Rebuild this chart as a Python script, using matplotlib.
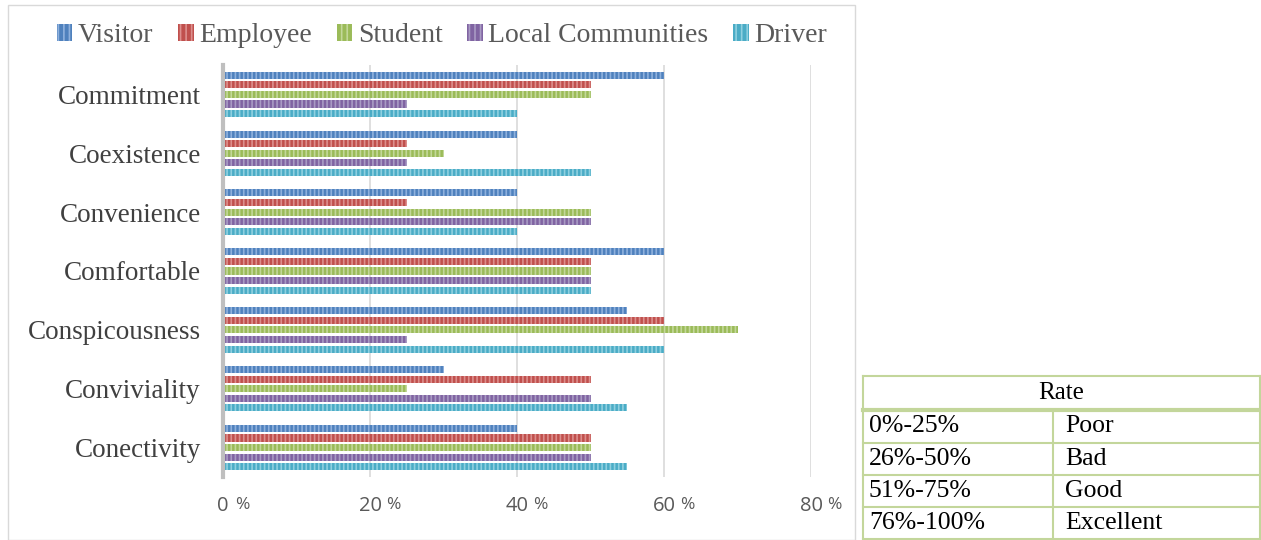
import matplotlib.pyplot as plt
import numpy as np
from matplotlib.lines import Line2D
from matplotlib.patches import Rectangle

categories = ['Commitment', 'Coexistence', 'Convenience', 'Comfortable',
              'Conspicousness', 'Conviviality', 'Conectivity']
groups = ['Visitor', 'Employee', 'Student', 'Local Communities', 'Driver']
visitor = [60, 40, 40, 60, 55, 30, 40]
employee = [50, 25, 25, 50, 60, 50, 50]
student = [50, 30, 50, 50, 70, 25, 50]
local = [25, 25, 50, 50, 25, 50, 50]
driver = [40, 50, 40, 50, 60, 55, 55]
series = [visitor, employee, student, local, driver]
colors = ['#4F81BD', '#C0504D', '#9BBB59', '#8064A2', '#4BACC6']
light = ['#8FB1DD', '#DD8F8D', '#C3D89A', '#A99BC4', '#8FD0E0']

xticks = [0, 20, 40, 60, 80]
rate_ranges = ['0%-25%', '26%-50%', '51%-75%', '76%-100%']
rate_names = ['Poor', 'Bad', 'Good', 'Excellent']

plt.rcParams['hatch.linewidth'] = 1.2

W, H = 1261, 540
fig = plt.figure(figsize=(W / 100, H / 100), dpi=100)

# chart border
fig.add_artist(Rectangle((8 / W, 0), 847 / W, 1 - 5 / H, transform=fig.transFigure,
                         fill=False, edgecolor='#D9D9D9', lw=1))

ax = fig.add_axes([223 / W, 1 - 477 / H, (811 - 223) / W, (477 - 65) / H])
y = np.arange(len(categories))
slot = 0.163
for i, vals in enumerate(series):
    ax.barh(y + (i - 2) * slot, vals, height=0.12, color=colors[i],
            edgecolor=light[i], linewidth=0, hatch='||||', label=groups[i])

ax.set_xlim(0, 80)
ax.set_ylim(len(categories) - 0.5, -0.5)
ax.set_xticks(xticks)
ax.set_xticklabels([str(t) for t in xticks], fontsize=14.5, color='#595959',
                   family='Open Sans')
ax.tick_params(axis='x', length=0, pad=14)
for t in xticks:
    ax.annotate('%', xy=(t, 0), xycoords=('data', 'axes fraction'),
                xytext=(14 if t == 0 else 17, -14.5), textcoords='offset points',
                fontsize=12.5, color='#595959', family='Open Sans', ha='center', va='top')
ax.set_yticks(y)
ax.set_yticklabels(categories, fontsize=19.5, color='#404040', family='Liberation Serif')
ax.tick_params(axis='y', length=0, pad=16)
ax.grid(axis='x', color='#D9D9D9', lw=1.2)
ax.set_axisbelow(True)
for s in ['top', 'right', 'bottom']:
    ax.spines[s].set_visible(False)
ax.spines['left'].set_color('#BFBFBF')
ax.spines['left'].set_linewidth(3)

handles = [Rectangle((0, 0), 1, 1, facecolor=colors[i], edgecolor=light[i], lw=0,
                     hatch='|||') for i in range(5)]
fig.legend(handles, groups, loc='center', bbox_to_anchor=(442 / W, 1 - 36 / H),
           ncol=5, frameon=False, handlelength=0.55, handleheight=0.55,
           handletextpad=0.2, columnspacing=0.9,
           prop={'family': 'Liberation Serif', 'size': 20}, labelcolor='#595959')

# rate table
tc = '#C3D69B'
x0, x1, xm = 863 / W, 1260 / W, 1053 / W
ys = [376, 410, 443, 475, 507, 539]


def fy(v):
    return 1 - v / H


for v in ys:
    lw = 3 if v == 410 else 1.5
    fig.add_artist(Line2D([x0, x1], [fy(v), fy(v)], color=tc, lw=lw))
for xv in [x0, x1]:
    fig.add_artist(Line2D([xv, xv], [fy(376), fy(539)], color=tc, lw=1.5))
fig.add_artist(Line2D([xm, xm], [fy(410), fy(539)], color=tc, lw=1.5))
fig.text((x0 + x1) / 2, fy(393), 'Rate', ha='center', va='center',
         family='Liberation Serif', fontsize=18)
for k in range(4):
    yc = fy((ys[k + 1] + ys[k + 2]) / 2)
    fig.text(869 / W, yc, rate_ranges[k], ha='left', va='center',
             family='Liberation Serif', fontsize=18.5)
    fig.text(1065 / W, yc, rate_names[k], ha='left', va='center',
             family='Liberation Serif', fontsize=18.5)

fig.savefig('out.png', dpi=100)
